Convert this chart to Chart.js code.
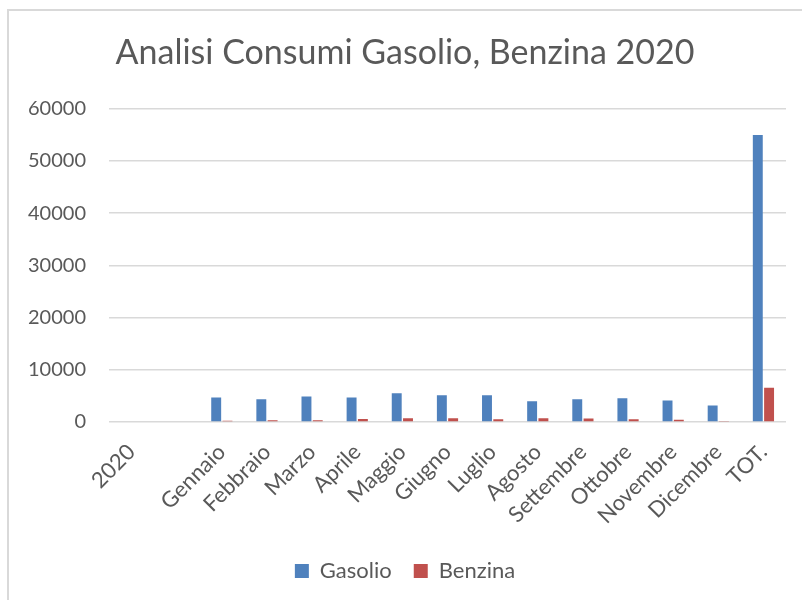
<!DOCTYPE html>
<html>
<head>
<meta charset="utf-8">
<title>Analisi Consumi Gasolio, Benzina 2020</title>
<script src="https://cdn.jsdelivr.net/npm/chart.js@4/dist/chart.umd.min.js"></script>
<style>
    body { margin: 0; background: #fff; overflow: hidden; }
    #frame { position: absolute; left: 7px; top: 9px; width: 820px; height: 620px; border: 2px solid #d9d9d9; }
    #wrap { position: absolute; left: 0; top: 0; width: 802px; height: 600px; }
</style>
</head>
<body>
<div id="frame"></div>
<div id="wrap"><canvas id="chart" width="802" height="600"></canvas></div>
<script>
// categories (the empty one is a blank column in the original sheet)
const categories = ["2020", "", "Gennaio", "Febbraio", "Marzo", "Aprile", "Maggio", "Giugno",
    "Luglio", "Agosto", "Settembre", "Ottobre", "Novembre", "Dicembre", "TOT."];

// values
const gasolio = [null, null, 4700, 4370, 4880, 4680, 5520, 5130, 5130, 3980, 4370, 4560, 4110, 3150, 55000];
const benzina = [null, null, 250, 330, 330, 580, 710, 710, 520, 710, 650, 520, 450, 100, 6540];

const yMin = 0;
const yMax = 60000;
const yStep = 10000;

const fontFamily = "Lato, 'Open Sans', sans-serif";
const textColor = "#595959";

const ctx = document.getElementById("chart").getContext("2d");
new Chart(ctx, {
    type: "bar",
    data: {
        labels: categories,
        datasets: [
            {
                label: "Gasolio",
                data: gasolio,
                backgroundColor: "#4f81bd",
                categoryPercentage: 0.5,
                barPercentage: 0.88
            },
            {
                label: "Benzina",
                data: benzina,
                backgroundColor: "#c0504d",
                categoryPercentage: 0.5,
                barPercentage: 0.88
            }
        ]
    },
    options: {
        responsive: false,
        animation: false,
        layout: {
            // some left padding pushes title and legend a bit right, like the original
            padding: { left: 24, right: 16, top: 0, bottom: 8 }
        },
        plugins: {
            title: {
                display: true,
                text: "Analisi Consumi Gasolio, Benzina 2020",
                color: textColor,
                font: { family: fontFamily, size: 34, weight: "normal" },
                padding: { top: 33, bottom: 35 }
            },
            legend: {
                display: true,
                position: "bottom",
                labels: {
                    color: textColor,
                    font: { family: fontFamily, size: 22 },
                    boxWidth: 14,
                    boxHeight: 14,
                    padding: 22
                }
            },
            tooltip: { enabled: false }
        },
        scales: {
            x: {
                grid: { display: false },
                border: { display: false },
                ticks: {
                    color: textColor,
                    font: { family: fontFamily, size: 22 },
                    maxRotation: 45,
                    minRotation: 45,
                    autoSkip: false,
                    padding: 9,
                    labelOffset: 0
                },
                afterFit: (scale) => { scale.height = 116; }
            },
            y: {
                min: yMin,
                max: yMax,
                grid: { color: "#d9d9d9", lineWidth: 1.5, drawTicks: false },
                border: { display: false },
                ticks: {
                    stepSize: yStep,
                    color: textColor,
                    font: { family: fontFamily, size: 20 },
                    padding: 23,
                    callback: (v) => String(v)
                },
                afterFit: (scale) => { scale.width = 85; }
            }
        }
    }
});
</script>
</body>
</html>
